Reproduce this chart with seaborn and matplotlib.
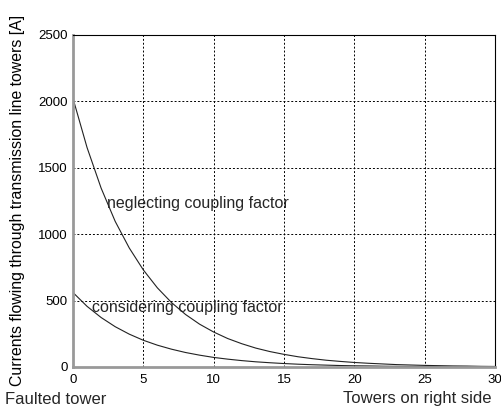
import numpy as np
import pandas as pd
import seaborn as sns
import matplotlib.pyplot as plt

# Datos (corriente por torre, lado derecho)
towers = list(range(0, 31))
neglecting = [2020, 1650, 1345, 1095, 895, 730, 595, 485, 395, 322,
              263, 214, 175, 142, 116, 95, 77, 63, 51, 42,
              34, 28, 23, 18, 15, 12, 10, 8, 7, 5, 4]
considering = [560, 456, 372, 303, 247, 201, 164, 134, 109, 89,
               72, 59, 48, 39, 32, 26, 21, 17, 14, 11,
               9, 8, 6, 5, 4, 3, 3, 2, 2, 1, 1]
y_ticks = [0, 500, 1000, 1500, 2000, 2500]
x_ticks = [0, 5, 10, 15, 20, 25, 30]

df = pd.DataFrame({
    'tower': towers * 2,
    'current': neglecting + considering,
    'case': ['neglecting'] * len(towers) + ['considering'] * len(towers),
})

sns.set_theme(style='white')
plt.rcParams['font.family'] = ['Liberation Sans', 'DejaVu Sans']

fig = plt.figure(figsize=(5.02, 4.08), dpi=100)
ax = fig.add_axes([0.1454, 0.1005, 0.8406, 0.8149])

sns.lineplot(data=df, x='tower', y='current', units='case', estimator=None,
             color='#222222', linewidth=0.8, ax=ax)

ax.set_xlim(0, 30)
ax.set_ylim(0, 2500)
ax.set_xticks(x_ticks)
ax.set_yticks(y_ticks)
ax.grid(True, color='black', linestyle=(0, (2, 2)), linewidth=0.7)
ax.tick_params(length=0, labelsize=9.5, colors='black', pad=4)
ax.tick_params(axis='x', pad=5)

for s in ['top', 'right']:
    ax.spines[s].set_color('black')
    ax.spines[s].set_linewidth(0.8)
for s in ['left', 'bottom']:
    ax.spines[s].set_color('#999999')
    ax.spines[s].set_linewidth(2)

ax.set_xlabel('')
ax.set_ylabel('Currents flowing through transmission line towers [A]',
              fontsize=11.4, color='black', labelpad=9)

ax.text(2.4, 1230, 'neglecting coupling factor', fontsize=11.5, va='center')
ax.text(1.35, 450, 'considering coupling factor', fontsize=11.5, va='center')

fig.text(5 / 502, 1 - 399 / 408, 'Faulted tower', fontsize=12, va='center', ha='left')
fig.text(492 / 502, 1 - 399 / 408, 'Towers on right side', fontsize=12, va='center', ha='right')

fig.savefig('out.png', dpi=100)
